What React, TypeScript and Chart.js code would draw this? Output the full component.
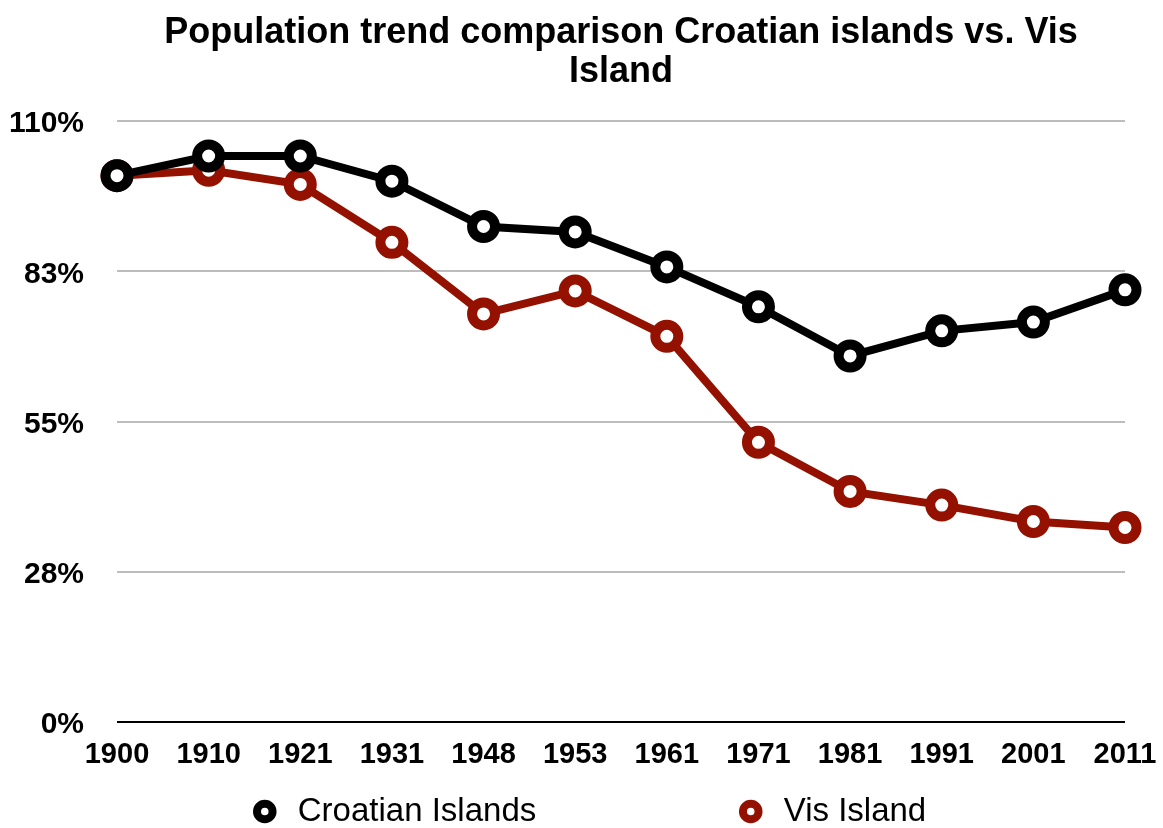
import React, { useEffect, useRef } from 'react';
import { Chart, registerables } from 'chart.js';

Chart.register(...registerables);

const YEARS = ['1900', '1910', '1921', '1931', '1948', '1953', '1961', '1971', '1981', '1991', '2001', '2011'];
const CROATIAN_ISLANDS = [100, 103.6, 103.6, 99.0, 90.7, 89.7, 83.3, 76.0, 67.0, 71.6, 73.2, 79.1];
const VIS_ISLAND = [100, 101.0, 98.4, 87.8, 74.7, 78.9, 70.6, 51.2, 42.2, 39.7, 36.7, 35.6];
const SERIES_NAMES = ['Croatian Islands', 'Vis Island'];
const Y_TICKS = [0, 27.5, 55, 82.5, 110];
const Y_TICK_LABELS = ['0%', '28%', '55%', '83%', '110%'];
const TITLE_LINES = ['Population trend comparison Croatian islands vs. Vis', 'Island'];

const FONT = '"Liberation Sans", Arial, Helvetica, sans-serif';
const BLACK = '#000000';
const RED = '#941100';

export default function App() {
  const canvasRef = useRef<HTMLCanvasElement | null>(null);

  useEffect(() => {
    document.body.style.margin = '0';
    const canvas = canvasRef.current;
    if (!canvas) return;

    const chart = new Chart(canvas, {
      type: 'line',
      data: {
        labels: YEARS,
        datasets: [
          {
            label: SERIES_NAMES[0],
            data: CROATIAN_ISLANDS,
            borderColor: BLACK,
            backgroundColor: BLACK,
            borderWidth: 8,
            pointRadius: 11.5,
            pointBorderWidth: 10,
            pointBackgroundColor: '#ffffff',
            pointBorderColor: BLACK,
            pointStyle: 'circle',
            tension: 0,
            clip: false,
          },
          {
            label: SERIES_NAMES[1],
            data: VIS_ISLAND,
            borderColor: RED,
            backgroundColor: RED,
            borderWidth: 8,
            pointRadius: 11.5,
            pointBorderWidth: 10,
            pointBackgroundColor: '#ffffff',
            pointBorderColor: RED,
            pointStyle: 'circle',
            tension: 0,
            clip: false,
          },
        ],
      },
      options: {
        animation: false,
        responsive: true,
        maintainAspectRatio: false,
        layout: { padding: { left: 0, right: 38, top: 0, bottom: -10 } },
        scales: {
          x: {
            offset: false,
            grid: { display: false, drawTicks: false },
            border: { display: false },
            ticks: {
              color: BLACK,
              padding: 16,
              maxRotation: 0,
              autoSkip: false,
              font: { family: FONT, size: 29, weight: 'bold' },
            },
            afterFit: (scale: any) => {
              scale.height = 73;
              scale.paddingLeft = 0;
              scale.paddingRight = 0;
            },
          },
          y: {
            min: 0,
            max: 110,
            border: { display: false },
            grid: {
              drawTicks: false,
              lineWidth: 2,
              color: (ctx: any) => (ctx.tick && ctx.tick.value === 0 ? BLACK : '#bdbdbd'),
            },
            afterBuildTicks: (scale: any) => {
              scale.ticks = Y_TICKS.map((v) => ({ value: v }));
            },
            afterFit: (scale: any) => {
              scale.width = 117;
            },
            ticks: {
              color: BLACK,
              padding: 33,
              labelOffset: 3,
              font: { family: FONT, size: 30, weight: 'bold' },
              callback: (_v: any, i: number) => Y_TICK_LABELS[i],
            },
          },
        },
        plugins: {
          title: {
            display: true,
            text: TITLE_LINES,
            fullSize: false,
            color: BLACK,
            font: { family: FONT, size: 36, weight: 'bold', lineHeight: 1.07 },
            padding: { top: 14, bottom: 30 },
          },
          legend: {
            display: true,
            position: 'bottom',
            labels: {
              usePointStyle: true,
              boxHeight: 11,
              padding: 0,
              color: BLACK,
              font: { family: FONT, size: 33 },
              generateLabels: (c: any) => {
                const base = (Chart.defaults.plugins.legend.labels as any)
                  .generateLabels(c)
                  .map((it: any) => ({ ...it, lineWidth: 8 }));
                const spacer = () => ({
                  text: '',
                  fillStyle: 'rgba(0,0,0,0)',
                  strokeStyle: 'rgba(0,0,0,0)',
                  lineWidth: 0,
                  hidden: false,
                  pointStyle: 'circle',
                });
                return [spacer(), base[0], spacer(), spacer(), spacer(), spacer(), base[1]];
              },
            },
          },
          tooltip: { enabled: false },
        },
      },
    } as any);

    return () => {
      chart.destroy();
    };
  }, []);

  return (
    <div style={{ position: 'absolute', left: 0, top: 0, width: 1163, height: 828 }}>
      <canvas ref={canvasRef} />
    </div>
  );
}
